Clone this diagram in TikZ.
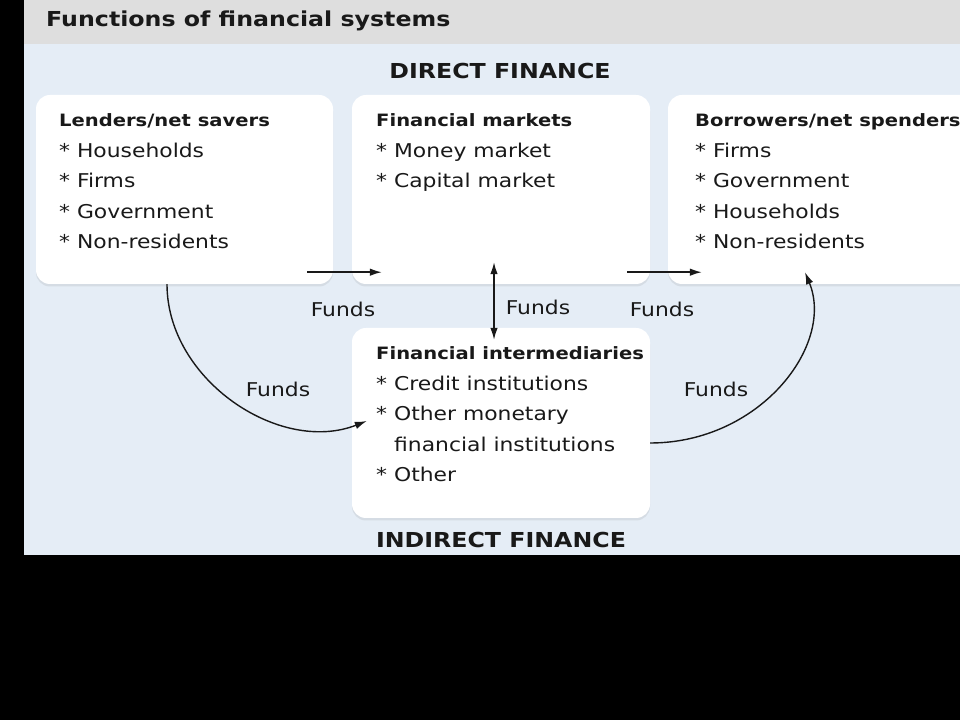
\documentclass[tikz,border=0pt]{standalone}
\usepackage{fontspec}
\setmainfont{DejaVu Sans}[FakeStretch=1.15]
\usetikzlibrary{arrows.meta,shadows}
\definecolor{panelblue}{RGB}{229,237,246}
\definecolor{headgray}{RGB}{222,222,222}
\definecolor{inkc}{RGB}{25,25,25}
\tikzset{
  box/.style={fill=white, draw=none, rounded corners=14pt, minimum width=#1,
    minimum height=189pt, inner sep=0pt,
    drop shadow={opacity=0.15, shadow xshift=0pt, shadow yshift=-2.5pt}},
  txt/.style={anchor=base west, align=left, inner sep=0pt, text=inkc,
    font=\fontsize{19}{30.5}\selectfont},
  btitle/.style={font=\bfseries\fontsize{17}{30.5}\selectfont},
  lbl/.style={inner sep=0pt, text=inkc, font=\fontsize{19}{22}\selectfont},
  hdr/.style={inner sep=0pt, text=inkc, font=\bfseries\fontsize{20.6}{24}\selectfont},
  arr/.style={-{Latex[length=12pt,width=7.5pt]}, line width=1.4pt, draw=inkc},
  dblarr/.style={{Latex[length=12pt,width=7.5pt]}-{Latex[length=12pt,width=7.5pt]}, line width=1.4pt, draw=inkc}
}
\newcommand{\bt}[1]{{\bfseries\fontsize{17}{30.5}\selectfont #1}}
\begin{document}
\begin{tikzpicture}[x=1pt,y=1pt]
\useasboundingbox (0,0) rectangle (960,720);
\clip (0,0) rectangle (960,720);
\fill[black] (0,0) rectangle (960,720);
\fill[panelblue] (24,165) rectangle (960,720);
\fill[headgray] (24,676) rectangle (960,720);

\node[hdr, anchor=base west] (title) at (46,693) {Functions of financial systems};
\node[hdr, anchor=base] (direct) at (500,641) {DIRECT FINANCE};
\node[hdr, anchor=base] (indirect) at (501,172) {INDIRECT FINANCE};

\node[box=297pt] (L) at (184.5,530.5) {};
\node[box=298pt] (M) at (501,530.5) {};
\node[box=308pt] (B) at (822,530.5) {};
\node[box=298pt, minimum height=190pt] (I) at (501,297) {};

\node[txt] (Lt) at (59,471) {\bt{Lenders/net savers}\\* Households\\* Firms\\* Government\\* Non-residents};
\node[txt] (Mt) at (376,532) {\bt{Financial markets}\\* Money market\\* Capital market};
\node[txt] (Bt) at (695,471) {\bt{Borrowers/net spenders}\\* Firms\\* Government\\* Households\\* Non-residents};
\node[txt] (It) at (376,238) {\bt{Financial intermediaries}\\* Credit institutions\\* Other monetary\\\hspace*{18pt}financial institutions\\* Other};

\draw[arr] ([xshift=-26pt,yshift=12pt]L.south east) -- ([xshift=30pt,yshift=12pt]M.south west);
\draw[arr] ([xshift=-23pt,yshift=12pt]M.south east) -- ([xshift=34pt,yshift=12pt]B.south west);
\draw[dblarr] ([xshift=-7pt,yshift=22pt]M.south) -- ([xshift=-7pt,yshift=-12pt]I.north);
\draw[arr] ([xshift=-17.5pt]L.south) .. controls (167,340) and (280,265) .. ([xshift=15pt,yshift=2pt]I.west);
\draw[arr] ([yshift=-20pt]I.east) .. controls (760,277) and (835,375) .. ([xshift=-17pt,yshift=12pt]B.south);

\node[lbl] (f1) at (343,411) {Funds};
\node[lbl] (f2) at (538,413) {Funds};
\node[lbl] (f3) at (662,411) {Funds};
\node[lbl] (f4) at (278,331) {Funds};
\node[lbl] (f5) at (716,331) {Funds};
\end{tikzpicture}
\end{document}
